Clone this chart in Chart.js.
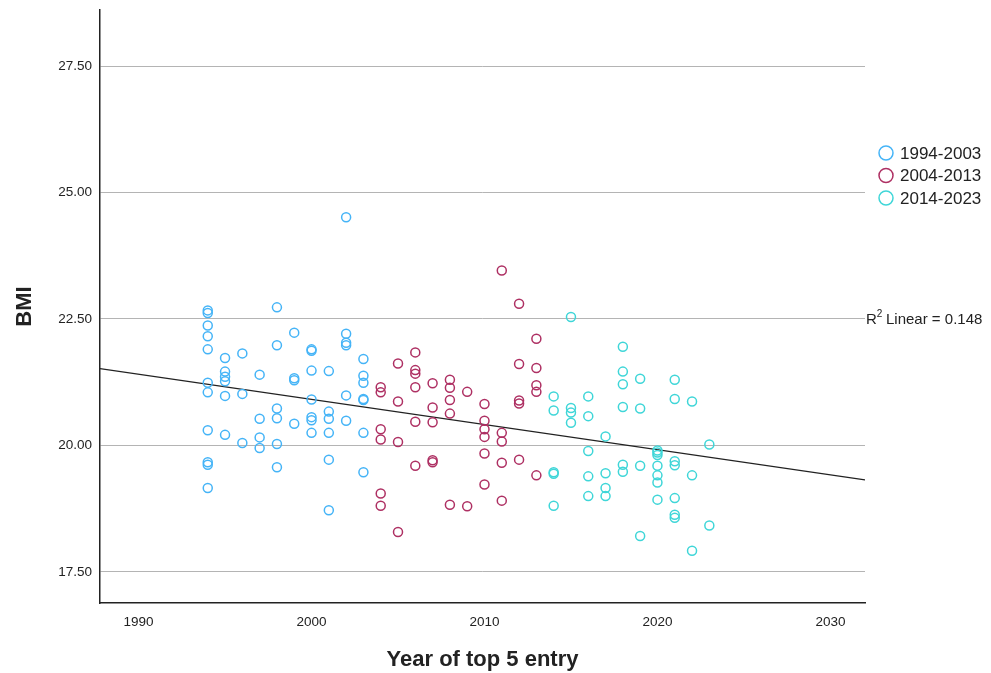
<!DOCTYPE html>
<html>
<head>
<meta charset="utf-8">
<style>
  html, body { margin: 0; padding: 0; background: #fff; }
  #wrap { width: 991px; height: 673px; }
</style>
<script src="https://cdn.jsdelivr.net/npm/chart.js@4/dist/chart.umd.min.js"></script>
</head>
<body>
<div id="wrap"><canvas id="chart"></canvas></div>
<script>
// values
const years1 = [1994,1994,1994,1994,1994,1994,1994,1994,1994,1994,1994,
  1995,1995,1995,1995,1995,1995, 1996,1996,1996, 1997,1997,1997,1997,
  1998,1998,1998,1998,1998,1998, 1999,1999,1999,1999,
  2000,2000,2000,2000,2000,2000,2000, 2001,2001,2001,2001,2001,2001,
  2002,2002,2002,2002,2002,2002, 2003,2003,2003,2003,2003,2003,2003];
const bmi1 = [22.67,22.62,22.37,22.16,21.90,21.24,21.05,20.30,19.67,19.62,19.16,
  21.73,21.46,21.36,21.27,20.98,20.21, 21.82,21.02,20.05, 21.40,20.53,20.16,19.95,
  22.73,21.98,20.73,20.54,20.03,19.57, 22.23,21.33,21.29,20.43,
  21.90,21.87,21.48,20.91,20.56,20.50,20.25, 21.47,20.67,20.53,20.25,19.72,18.72,
  24.51,22.21,22.03,21.98,20.99,20.49, 21.71,21.38,21.24,20.92,20.90,20.25,19.47];

const years2 = [2004,2004,2004,2004,2004,2004, 2005,2005,2005,2005,
  2006,2006,2006,2006,2006,2006, 2007,2007,2007,2007,2007,
  2008,2008,2008,2008,2008, 2009,2009, 2010,2010,2010,2010,2010,2010,
  2011,2011,2011,2011,2011, 2012,2012,2012,2012,2012, 2013,2013,2013,2013,2013];
const bmi2 = [21.15,21.05,20.32,20.12,19.05,18.81, 21.62,20.87,20.07,18.29,
  21.84,21.49,21.42,21.15,20.47,19.60, 21.23,20.75,20.46,19.71,19.67,
  21.30,21.14,20.90,20.63,18.83, 21.06,18.80, 20.82,20.49,20.32,20.17,19.84,19.23,
  23.46,20.25,20.08,19.66,18.91, 22.80,21.61,20.89,20.83,19.72, 22.11,21.53,21.19,21.06,19.41];

const years3 = [2014,2014,2014,2014,2014, 2015,2015,2015,2015,
  2016,2016,2016,2016,2016, 2017,2017,2017,2017,
  2018,2018,2018,2018,2018,2018, 2019,2019,2019,2019,
  2020,2020,2020,2020,2020,2020,2020, 2021,2021,2021,2021,2021,2021,2021,
  2022,2022,2022, 2023,2023];
const bmi3 = [20.97,20.69,19.47,19.44,18.81, 22.54,20.74,20.65,20.45,
  20.97,20.58,19.89,19.39,19.00, 20.18,19.45,19.16,19.00,
  21.95,21.46,21.21,20.76,19.62,19.48, 21.32,20.73,19.60,18.21,
  19.90,19.86,19.81,19.60,19.41,19.27,18.93, 21.30,20.92,19.69,19.61,18.96,18.63,18.57,
  20.87,19.41,17.92, 20.02,18.42];

const groupLabels = ['1994-2003', '2004-2013', '2014-2023'];
const groupColors = ['#45b4f7', '#ae3063', '#3fd6d8'];

// fitted line end points as drawn
const fitYears = [1987.77, 2032.0];
const fitBmi = [21.52, 19.32];
const rSquared = 0.148;

const xTicks = [1990, 2000, 2010, 2020, 2030];
const yTicks = [17.5, 20, 22.5, 25, 27.5];

const FONT = '"Liberation Sans", Arial, sans-serif';

function toPoints(xs, ys){
    return xs.map((x, i) => ({x: x, y: ys[i]}));
}

function groupDataset(i, xs, ys){
    return {
        label: groupLabels[i],
        data: toPoints(xs, ys),
        borderColor: groupColors[i],
        backgroundColor: 'rgba(0,0,0,0)',
        borderWidth: 1.5,
        pointRadius: 4.5,
        pointHoverRadius: 4.5
    };
}

const sideLegend = {
    id: 'sideLegend',
    afterDraw(chart){
        const ctx = chart.ctx;
        ctx.save();
        ctx.font = '17px ' + FONT;
        ctx.textBaseline = 'middle';
        ctx.textAlign = 'left';
        for (let i = 0; i < groupLabels.length; i++) {
            const y = 153 + i * 22.5;
            ctx.beginPath();
            ctx.arc(886, y, 7, 0, Math.PI * 2);
            ctx.strokeStyle = groupColors[i];
            ctx.lineWidth = 1.5;
            ctx.stroke();
            ctx.fillStyle = '#222';
            ctx.fillText(groupLabels[i], 900, y + 1);
        }
        // R squared label next to the fit line
        const yPos = chart.scales.y.getPixelForValue(22.5);
        ctx.font = '15px ' + FONT;
        ctx.fillText('R', 866, yPos + 1);
        const rw = ctx.measureText('R').width;
        ctx.font = '10px ' + FONT;
        ctx.fillText('2', 866 + rw, yPos - 5);
        ctx.font = '15px ' + FONT;
        ctx.fillText(' Linear = ' + rSquared.toFixed(3), 866 + rw + 5, yPos + 1);
        ctx.restore();
    }
};

new Chart(document.getElementById('chart'), {
    type: 'scatter',
    data: {
        datasets: [
            groupDataset(0, years1, bmi1),
            groupDataset(1, years2, bmi2),
            groupDataset(2, years3, bmi3),
            {
                label: 'fit',
                type: 'line',
                data: toPoints(fitYears, fitBmi),
                borderColor: '#222',
                borderWidth: 1.3,
                pointRadius: 0,
                fill: false
            }
        ]
    },
    options: {
        responsive: true,
        maintainAspectRatio: false,
        animation: false,
        layout: { padding: { top: 10, right: 126, left: 0, bottom: 0 } },
        plugins: {
            legend: { display: false },
            tooltip: { enabled: false }
        },
        scales: {
            x: {
                type: 'linear',
                min: 1987.77,
                max: 2032.0,
                afterFit(s){ s.height = 70; s.paddingLeft = 0; s.paddingRight = 0; },
                afterBuildTicks(s){ s.ticks = xTicks.map(v => ({value: v})); },
                grid: { display: false },
                border: { color: '#222', width: 1.5 },
                ticks: {
                    color: '#222',
                    padding: 3,
                    font: { family: FONT, size: 13.5 },
                    callback: v => String(v)
                },
                title: {
                    display: true,
                    text: 'Year of top 5 entry',
                    color: '#222',
                    font: { family: FONT, size: 22, weight: 'bold' },
                    padding: { top: 0, bottom: 0 }
                }
            },
            y: {
                min: 16.887,
                max: 28.607,
                afterFit(s){ s.width = 100; s.paddingTop = 0; s.paddingBottom = 0; },
                afterBuildTicks(s){ s.ticks = yTicks.map(v => ({value: v})); },
                grid: { color: '#b4b4b4', lineWidth: 1, drawTicks: false },
                border: { color: '#222', width: 1.5 },
                ticks: {
                    color: '#222',
                    padding: 8,
                    font: { family: FONT, size: 13.5 },
                    callback: v => Number(v).toFixed(2)
                },
                title: {
                    display: true,
                    text: 'BMI',
                    color: '#222',
                    font: { family: FONT, size: 22, weight: 'bold' },
                    padding: { top: 12, bottom: 0 }
                }
            }
        }
    },
    plugins: [sideLegend]
});
</script>
</body>
</html>
